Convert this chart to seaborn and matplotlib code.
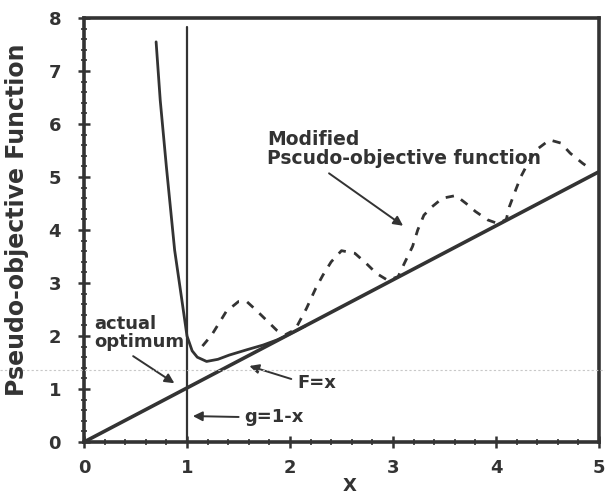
import numpy as np
import pandas as pd
import matplotlib
matplotlib.use("Agg")
import matplotlib.pyplot as plt
import seaborn as sns
from matplotlib.lines import Line2D

# ---- data ----
line_x = [0.0, 5.0]
line_y = [0.0, 5.1]

penalty_x = [0.70, 0.74, 0.80, 0.88, 0.95, 1.00, 1.05, 1.10, 1.19, 1.30, 1.41, 1.58, 1.74, 1.88, 2.00, 2.15]
penalty_y = [7.55, 6.45, 5.19, 3.62, 2.68, 2.00, 1.72, 1.60, 1.52, 1.56, 1.64, 1.74, 1.83, 1.93, 2.04, 2.19]

modified_x = [1.15, 1.24, 1.32, 1.38, 1.50, 1.58, 1.67, 1.77, 1.87, 1.95,
              2.05, 2.16, 2.25, 2.32, 2.40, 2.50, 2.63, 2.74, 2.84, 2.95,
              3.05, 3.11, 3.19, 3.24, 3.30, 3.38, 3.48, 3.61, 3.71, 3.80, 3.92, 4.02,
              4.10, 4.13, 4.19, 4.24, 4.31, 4.39, 4.52, 4.63, 4.72, 4.84, 4.92]
modified_y = [1.81, 2.02, 2.27, 2.46, 2.65, 2.65, 2.49, 2.30, 2.11, 2.02,
              2.12, 2.52, 2.90, 3.15, 3.40, 3.61, 3.56, 3.37, 3.18, 3.05,
              3.12, 3.37, 3.69, 4.00, 4.28, 4.44, 4.60, 4.65, 4.50, 4.35, 4.19, 4.12,
              4.20, 4.44, 4.75, 5.00, 5.26, 5.51, 5.70, 5.64, 5.45, 5.26, 5.15]

constraint_x = [1.0, 1.0]
constraint_y = [0.0, 7.83]

x_ticks = [0, 1, 2, 3, 4, 5]
y_ticks = [0, 1, 2, 3, 4, 5, 6, 7, 8]
x_tick_labels = ["0", "1", "2", "3", "4", "5"]
y_tick_labels = ["0", "1", "2", "3", "4", "5", "6", "7", "8"]

# ---- style ----
sns.set_theme(style="white")
plt.rcParams["font.family"] = ["DejaVu Sans"]
ink = "#333333"

fig = plt.figure(figsize=(6.05, 4.96), dpi=100)
ax = fig.add_axes([84 / 605, 1 - 442 / 496, (599 - 84) / 605, (442 - 18) / 496])

df_line = pd.DataFrame({"x": line_x, "y": line_y})
df_pen = pd.DataFrame({"x": penalty_x, "y": penalty_y})
df_mod = pd.DataFrame({"x": modified_x, "y": modified_y})
df_con = pd.DataFrame({"x": constraint_x, "y": constraint_y})

kw = dict(ax=ax, color=ink, sort=False, estimator=None, errorbar=None)
sns.lineplot(data=df_con, x="x", y="y", lw=1.6, **kw)
sns.lineplot(data=df_line, x="x", y="y", lw=2.6, **kw)
sns.lineplot(data=df_pen, x="x", y="y", lw=2.0, **kw)
sns.lineplot(data=df_mod, x="x", y="y", lw=2.0, linestyle=(0, (3, 3)), **kw)

ax.set_xlim(0, 5)
ax.set_ylim(0, 8)
ax.set_xticks(x_ticks)
ax.set_xticklabels(x_tick_labels)
ax.set_yticks(y_ticks)
ax.set_yticklabels(y_tick_labels)
ax.set_xticks(np.arange(0, 5.01, 0.2), minor=True)
ax.set_yticks(np.arange(0, 8.01, 0.2), minor=True)
ax.tick_params(axis="both", which="both", bottom=True, left=True, top=False, right=False)
ax.tick_params(axis="both", which="major", direction="inout", length=9, width=1.8,
               color=ink, labelsize=13, labelcolor=ink)
ax.tick_params(axis="both", which="minor", direction="inout", length=4, width=1.2, color=ink)
ax.tick_params(axis="y", which="major", pad=12)
ax.tick_params(axis="x", which="major", pad=8)
for lab in ax.get_xticklabels() + ax.get_yticklabels():
    lab.set_fontweight("bold")

for side in ["left", "right", "top", "bottom"]:
    ax.spines[side].set_visible(True)
    ax.spines[side].set_color(ink)
    ax.spines[side].set_linewidth(2.6)

ax.set_xlabel("")
ax.set_ylabel("")
fig.text(350 / 605, 1 - 486 / 496, "X", ha="center", va="center", fontsize=13,
         fontweight="bold", color=ink)
fig.text(17 / 605, 1 - 220 / 496, "Pseudo-objective Function", rotation=90,
         ha="center", va="center", fontsize=17, fontweight="bold", color=ink)

# annotations
arrow = dict(arrowstyle="-|>", color=ink, lw=1.4, mutation_scale=14)
ax.annotate("Modified\nPscudo-objective function", xy=(3.12, 4.05), xytext=(1.78, 5.52),
            fontsize=13.5, fontweight="bold", color=ink, ha="left", va="center",
            linespacing=1.0, arrowprops=dict(arrow, relpos=(0.2, 0.0)))
ax.annotate("actual\noptimum", xy=(0.9, 1.08), xytext=(0.1, 2.05),
            fontsize=13, fontweight="bold", color=ink, ha="left", va="center",
            linespacing=1.0, arrowprops=dict(arrow, relpos=(0.35, 0.0)))
ax.annotate("F=x", xy=(1.58, 1.45), xytext=(2.07, 1.12),
            fontsize=13, fontweight="bold", color=ink, ha="left", va="center",
            arrowprops=dict(arrow, relpos=(0.0, 0.6)))
ax.annotate("g=1-x", xy=(1.03, 0.49), xytext=(1.56, 0.47),
            fontsize=13, fontweight="bold", color=ink, ha="left", va="center",
            arrowprops=dict(arrow, relpos=(0.0, 0.5)))

# faint scan line
fig.add_artist(Line2D([0, 1], [1 - 370 / 496, 1 - 370 / 496], transform=fig.transFigure,
                      color="#c8c8c8", lw=0.8, linestyle=(0, (2, 2))))

fig.savefig("out.png", dpi=100)
